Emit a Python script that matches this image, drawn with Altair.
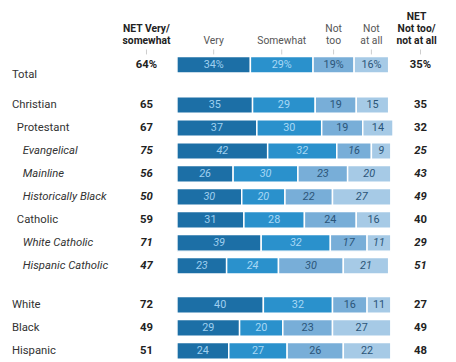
import altair as alt
import pandas as pd

rows = ["Total", "Christian", "Protestant", "Evangelical", "Mainline", "Historically Black",
        "Catholic", "White Catholic", "Hispanic Catholic", "White", "Black", "Hispanic"]
very = [34, 35, 37, 42, 26, 30, 31, 39, 23, 40, 29, 24]
somewhat = [29, 29, 30, 32, 30, 20, 28, 32, 24, 32, 20, 27]
not_too = [19, 19, 19, 16, 23, 22, 24, 17, 30, 16, 23, 26]
not_at_all = [16, 15, 14, 9, 20, 27, 16, 11, 21, 11, 27, 22]
net_very = [64, 65, 67, 75, 56, 50, 59, 71, 47, 72, 49, 51]
net_not = [35, 35, 32, 25, 43, 49, 40, 29, 51, 27, 49, 48]
indent = [0, 0, 1, 2, 2, 2, 1, 2, 2, 0, 0, 0]
group = [0, 1, 1, 1, 1, 1, 1, 1, 1, 2, 2, 2]

cats = ["Very", "Somewhat", "Not too", "Not at all"]
hdr_line1 = ["", "", "Not", "Not"]
hdr_line2 = ["Very", "Somewhat", "too", "at all"]
colors = ["#1c6fa6", "#2a91cc", "#78aed8", "#a6cae6"]
text_colors = ["#9fcff0", "#a8d8f5", "#2b5578", "#2b5578"]

FONT = "Roboto"
W, H = 448, 360
X0, PX = 172, 2.2           # svg x of 0%, px per percent
Y0, STEP = 54.5, 23.4       # svg y of first row, px per row
GROUP_GAP = [0, 0.75, 1.45]  # extra space (in rows) before each group
xdom = [-X0 / PX, (W - X0) / PX]
ydom = [-Y0 / STEP, (H - Y0) / STEP]
LEFT_NET_X, RIGHT_NET_X, RIGHT_HDR_X = 141, 420, 416
HY = [5.5, 18, 30.5]        # header line positions

recs = []
seg = []
for i, r in enumerate(rows):
    pos = i + GROUP_GAP[group[i]]
    vals = [very[i], somewhat[i], not_too[i], not_at_all[i]]
    italic = indent[i] == 2
    recs.append(dict(row=r, pos=pos, indent=indent[i], italic=italic,
                     netv=(f"{net_very[i]}%" if i == 0 else str(net_very[i])),
                     netn=(f"{net_not[i]}%" if i == 0 else str(net_not[i]))))
    start = 0
    for k, c in enumerate(cats):
        v = vals[k]
        seg.append(dict(row=r, pos=pos, y1=pos - 0.36, y2=pos + 0.36, cat=c,
                        x1=start, x2=start + v, mid=start + v / 2,
                        label=(f"{v}%" if i == 0 else str(v)), italic=italic,
                        tcol=text_colors[k], first=(i == 0),
                        l1=hdr_line1[k], l2=hdr_line2[k]))
        start += v

rdf = pd.DataFrame(recs)
sdf = pd.DataFrame(seg)

xs = alt.Scale(domain=xdom, nice=False, zero=False)
ys = alt.Scale(domain=ydom, nice=False, zero=False, reverse=True)
X = lambda f: alt.X(f, type="quantitative", scale=xs, axis=None)
Y = lambda f: alt.Y(f, type="quantitative", scale=ys, axis=None)

bars = alt.Chart(sdf).mark_rect(stroke="white", strokeWidth=1.5).encode(
    x=X("x1"), x2="x2", y=Y("y1"), y2="y2",
    color=alt.Color("cat:N", scale=alt.Scale(domain=cats, range=colors), legend=None),
)

def seg_text(italic):
    return alt.Chart(sdf).transform_filter(
        alt.datum.italic == italic
    ).mark_text(font=FONT, fontSize=11, fontStyle="italic" if italic else "normal").encode(
        x=X("mid"), y=Y("pos"), text="label:N",
        color=alt.Color("tcol:N", scale=None),
    )

def row_labels(level, italic, dy=0, only_total=None):
    d = alt.Chart(rdf).transform_filter(alt.datum.indent == level)
    if only_total is True:
        d = d.transform_filter(alt.datum.row == "Total")
    elif only_total is False:
        d = d.transform_filter(alt.datum.row != "Total")
    return d.mark_text(font=FONT, fontSize=11.5, align="left", color="#333333", dy=dy,
                       fontStyle="italic" if italic else "normal").encode(
        x=alt.value([4, 9, 15][level]), y=Y("pos"), text="row:N")

def net_col(field, xpx, italic):
    return alt.Chart(rdf).transform_filter(alt.datum.italic == italic).mark_text(
        font=FONT, fontSize=11.5, fontWeight="bold", color="#222222",
        fontStyle="italic" if italic else "normal").encode(
        x=alt.value(xpx), y=Y("pos"), text=f"{field}:N")

# headers over the segments of the Total row
hdr_seg = alt.Chart(sdf).transform_filter(alt.datum.first == True)
h1 = hdr_seg.mark_text(font=FONT, fontSize=10.5, color="#555555").encode(
    x=X("mid"), y=alt.value(HY[1]), text="l1:N")
h2 = hdr_seg.mark_text(font=FONT, fontSize=10.5, color="#555555").encode(
    x=X("mid"), y=alt.value(HY[2]), text="l2:N")
htick = hdr_seg.mark_rule(color="#cccccc", strokeWidth=1).encode(
    x=X("mid"), y=alt.value(39), y2=alt.value(44))

net_hdr = pd.DataFrame({"t": ["NET Very/", "somewhat", "NET", "Not too/", "not at all"],
                        "xp": [LEFT_NET_X, LEFT_NET_X, RIGHT_HDR_X, RIGHT_HDR_X, RIGHT_HDR_X],
                        "yp": [HY[1], HY[2], HY[0], HY[1], HY[2]]})
nh = alt.Chart(net_hdr).mark_text(font=FONT, fontSize=10.5, fontWeight="bold", color="#222222").encode(
    x=alt.X("xp:Q", scale=None), y=alt.Y("yp:Q", scale=None), text="t:N")
net_ticks = pd.DataFrame({"xp": [LEFT_NET_X, RIGHT_NET_X]})
nt = alt.Chart(net_ticks).mark_rule(color="#cccccc").encode(
    x=alt.X("xp:Q", scale=None), y=alt.value(39), y2=alt.value(44))

chart = alt.layer(
    bars, seg_text(False), seg_text(True),
    row_labels(0, False, dy=11, only_total=True), row_labels(0, False, only_total=False),
    row_labels(1, False), row_labels(2, True),
    net_col("netv", LEFT_NET_X, False), net_col("netv", LEFT_NET_X, True),
    net_col("netn", RIGHT_NET_X, False), net_col("netn", RIGHT_NET_X, True),
    h1, h2, htick, nh, nt,
).properties(width=W, height=H, padding=0, autosize="none").configure_view(stroke=None)

chart.save("out.html", embed_options={"renderer": "svg", "actions": False})
